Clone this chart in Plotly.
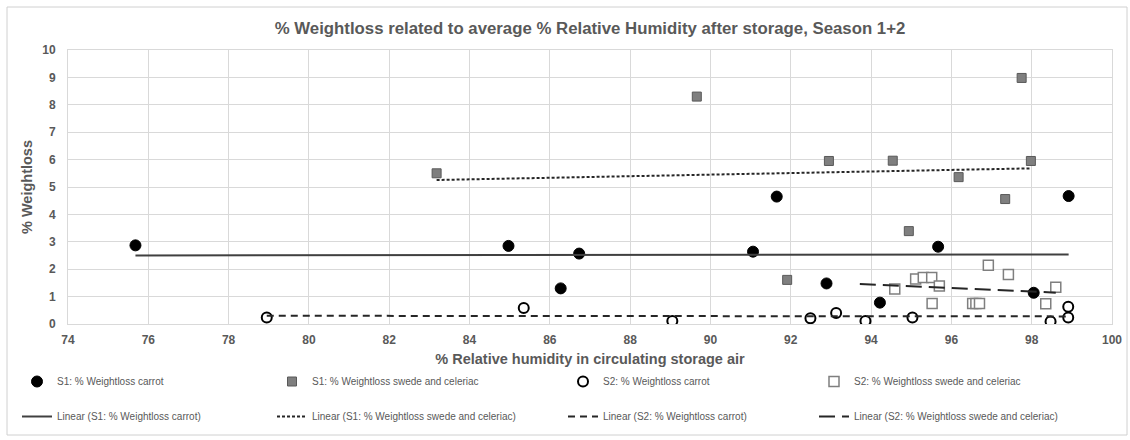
import numpy as np
import plotly.graph_objects as go

# ---- data ----
s1_carrot_rh = [75.68, 84.97, 86.73, 86.27, 91.06, 91.65, 92.89, 94.22, 95.67, 98.05, 98.92]
s1_carrot_wl = [2.87, 2.85, 2.57, 1.30, 2.64, 4.65, 1.48, 0.78, 2.82, 1.14, 4.67]

s1_swede_rh = [83.18, 89.66, 92.95, 94.54, 96.18, 97.34, 97.75, 97.98, 94.94, 91.91]
s1_swede_wl = [5.50, 8.30, 5.95, 5.96, 5.36, 4.56, 8.98, 5.95, 3.39, 1.61]

s2_carrot_rh = [78.95, 85.35, 89.05, 92.49, 93.13, 93.86, 95.03, 98.47, 98.91, 98.91]
s2_carrot_wl = [0.24, 0.58, 0.11, 0.21, 0.40, 0.11, 0.24, 0.09, 0.63, 0.24]

s2_swede_rh = [94.59, 95.11, 95.30, 95.51, 95.70, 95.52, 96.53, 96.61, 96.70, 96.92, 97.42, 98.35, 98.60]
s2_swede_wl = [1.28, 1.64, 1.70, 1.70, 1.39, 0.75, 0.75, 0.75, 0.75, 2.14, 1.81, 0.74, 1.34]
s2_swede_trend_start = 93.72  # trendline in the source starts here

x_ticks = list(range(74, 101, 2))
y_ticks = list(range(0, 11, 1))

title = "% Weightloss related to average % Relative Humidity after storage, Season 1+2"
x_title = "% Relative humidity in circulating storage air"
y_title = "% Weightloss"

TXT = "#595959"
GRID = "#d9d9d9"
FONT = "Liberation Sans, Arial, sans-serif"


def trend(xs, ys, x0=None):
    k, b = np.polyfit(xs, ys, 1)
    lo = min(xs) if x0 is None else x0
    hi = max(xs)
    xx = np.array([lo, hi])
    return xx, k * xx + b


fig = go.Figure()

# scatter series
fig.add_trace(go.Scatter(x=s1_carrot_rh, y=s1_carrot_wl, mode="markers",
                         name="S1: % Weightloss carrot", legend="legend",
                         marker=dict(symbol="circle", size=11, color="#000000",
                                     line=dict(color="#000000", width=1))))
fig.add_trace(go.Scatter(x=s1_swede_rh, y=s1_swede_wl, mode="markers",
                         name="S1: % Weightloss swede and celeriac", legend="legend2",
                         marker=dict(symbol="square", size=9, color="#7f7f7f",
                                     line=dict(color="#595959", width=1))))
fig.add_trace(go.Scatter(x=s2_carrot_rh, y=s2_carrot_wl, mode="markers",
                         name="S2: % Weightloss carrot", legend="legend3",
                         marker=dict(symbol="circle", size=10, color="#ffffff",
                                     line=dict(color="#000000", width=2))))
fig.add_trace(go.Scatter(x=s2_swede_rh, y=s2_swede_wl, mode="markers",
                         name="S2: % Weightloss swede and celeriac", legend="legend4",
                         marker=dict(symbol="square", size=10, color="#ffffff",
                                     line=dict(color="#7f7f7f", width=1.5))))

# trendlines
tx, ty = trend(s1_carrot_rh, s1_carrot_wl)
fig.add_trace(go.Scatter(x=tx, y=ty, mode="lines", legend="legend",
                         name="Linear (S1: % Weightloss carrot)",
                         line=dict(color="#404040", width=2)))
tx, ty = trend(s1_swede_rh, s1_swede_wl)
fig.add_trace(go.Scatter(x=tx, y=ty, mode="lines", legend="legend2",
                         name="Linear (S1: % Weightloss swede and celeriac)",
                         line=dict(color="#262626", width=2, dash="3px,2px")))
tx, ty = trend(s2_carrot_rh, s2_carrot_wl)
fig.add_trace(go.Scatter(x=tx, y=ty, mode="lines", legend="legend3",
                         name="Linear (S2: % Weightloss carrot)",
                         line=dict(color="#262626", width=2, dash="7px,5px")))
tx, ty = trend(s2_swede_rh, s2_swede_wl, s2_swede_trend_start)
fig.add_trace(go.Scatter(x=tx, y=ty, mode="lines", legend="legend4",
                         name="Linear (S2: % Weightloss swede and celeriac)",
                         line=dict(color="#262626", width=2, dash="16px,7px")))

L, R, T, B = 68, 18, 50, 116
W, H = 1130, 440
pw, ph = W - L - R, H - T - B


def px2paper_x(px):
    return (px - L) / pw


def px2paper_y(py):
    return (H - B - py) / ph


leg_common = dict(orientation="v", yanchor="top", xanchor="left",
                  font=dict(family=FONT, size=10, color=TXT),
                  bgcolor="rgba(0,0,0,0)", tracegroupgap=16,
                  traceorder="grouped", itemwidth=30)
legend_x_px = [17, 272, 563, 814]
legend_top_px = 367

layout_legends = {}
for i, lx in enumerate(legend_x_px):
    key = "legend" if i == 0 else f"legend{i+1}"
    layout_legends[key] = dict(leg_common, x=px2paper_x(lx), y=px2paper_y(legend_top_px))

# give each trace its own group so tracegroupgap applies
for i, tr in enumerate(fig.data):
    tr.legendgroup = f"g{i}"

fig.update_layout(
    width=W, height=H,
    margin=dict(l=L, r=R, t=T, b=B, autoexpand=False),
    paper_bgcolor="#ffffff", plot_bgcolor="#ffffff",
    font=dict(family=FONT, color=TXT),
    title=dict(text=title, x=0.5, xref="paper", xanchor="center",
               yref="container", y=1 - 28 / H, yanchor="middle",
               font=dict(family=FONT, size=16.8, color=TXT, weight="bold")),
    showlegend=True,
    **layout_legends,
    shapes=[dict(type="rect", xref="paper", yref="paper",
                 x0=px2paper_x(7), x1=px2paper_x(1127),
                 y0=px2paper_y(435), y1=px2paper_y(7),
                 line=dict(color="#d0d0d0", width=1), fillcolor="rgba(0,0,0,0)", layer="below")],
)

fig.update_xaxes(range=[74, 100], tickvals=x_ticks, ticktext=[str(v) for v in x_ticks],
                 showgrid=True, gridcolor=GRID, gridwidth=1, zeroline=False,
                 showline=True, linecolor=GRID, mirror=True, ticks="",
                 ticklabelstandoff=5,
                 tickfont=dict(family=FONT, size=12, color=TXT, weight="bold"),
                 title=dict(text=x_title, standoff=7,
                            font=dict(family=FONT, size=14.5, color=TXT, weight="bold")))
fig.update_yaxes(range=[0, 10], tickvals=y_ticks, ticktext=[str(v) for v in y_ticks],
                 showgrid=True, gridcolor=GRID, gridwidth=1, zeroline=False,
                 showline=True, linecolor=GRID, mirror=True, ticks="",
                 ticklabelstandoff=9,
                 tickfont=dict(family=FONT, size=12, color=TXT, weight="bold"),
                 title=dict(text=y_title, standoff=6,
                            font=dict(family=FONT, size=14.5, color=TXT, weight="bold")))

fig.write_html("out.html", config={"displayModeBar": False},
               post_script="document.body.style.margin='0';")
